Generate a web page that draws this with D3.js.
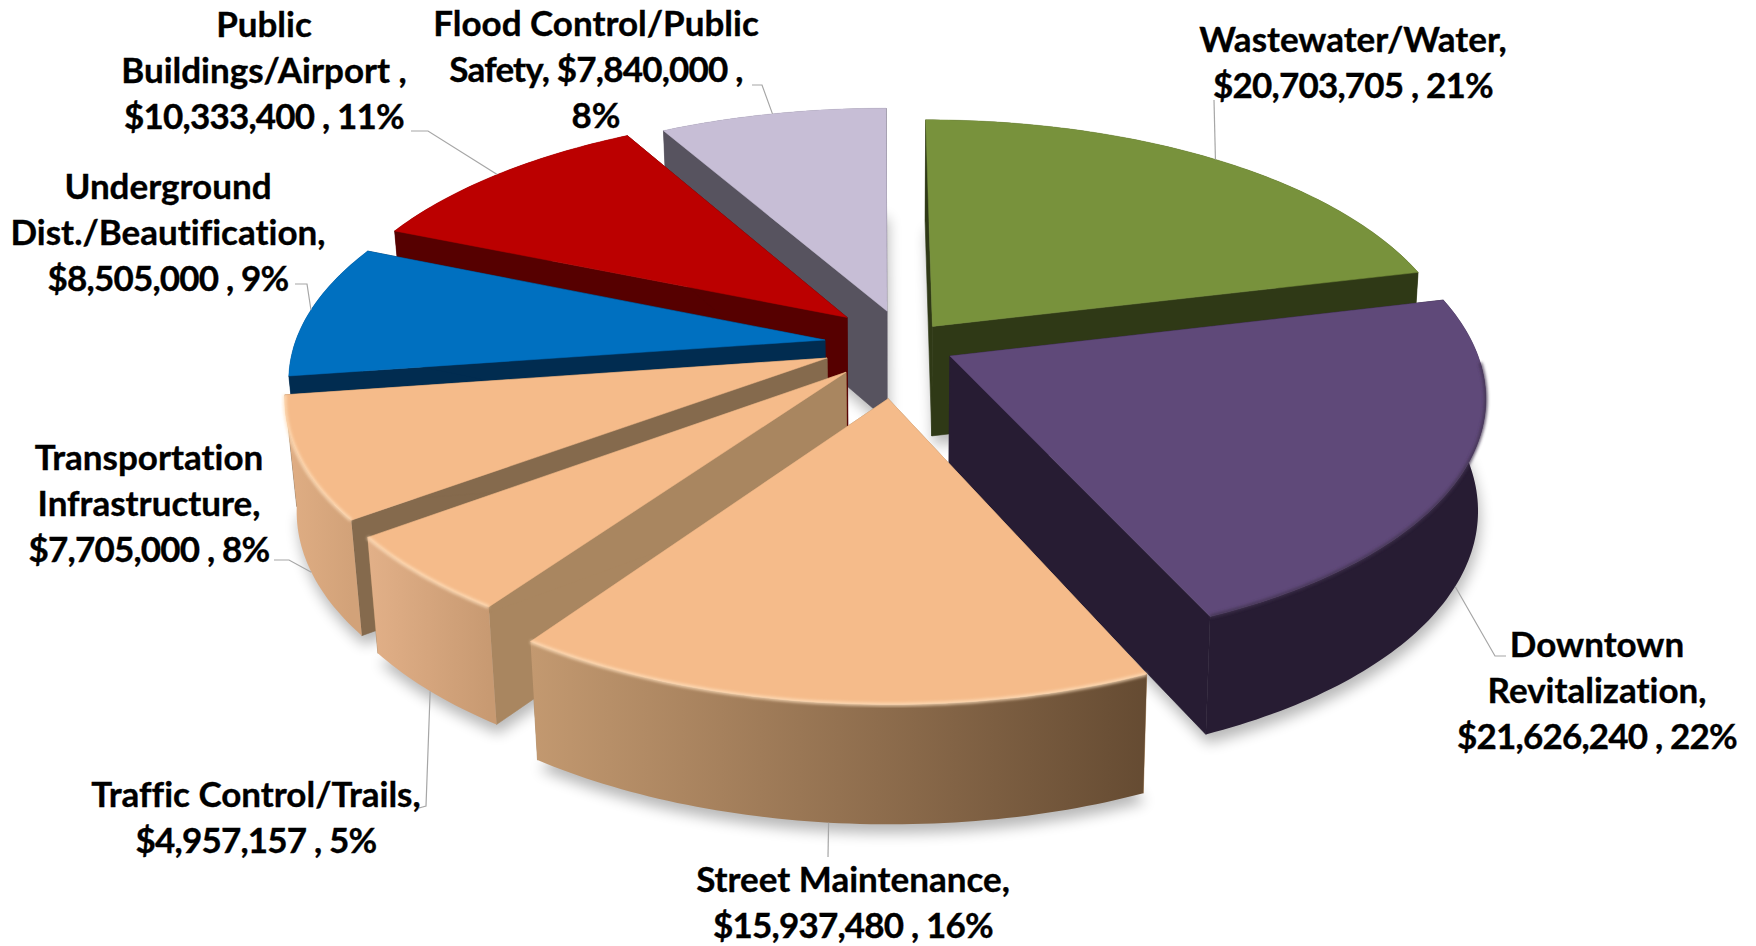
<!DOCTYPE html>
<html><head><meta charset="utf-8">
<script src="https://cdn.jsdelivr.net/npm/d3@7"></script>
<style>html,body{margin:0;background:#fff}svg{display:block}text{font-family:Lato,sans-serif;font-weight:700;fill:#000;stroke:#000;stroke-width:0.35;font-variant-ligatures:none}</style>
</head><body><svg id="c" width="1756" height="946"></svg>
<script>
// ---- data (clockwise from 12 o'clock)
const categories = ["Wastewater/Water","Downtown Revitalization","Street Maintenance","Traffic Control/Trails","Transportation Infrastructure","Underground Dist./Beautification","Public Buildings/Airport","Flood Control/Public Safety"];
const amounts = [20703705,21626240,15937480,4957157,7705000,8505000,10333400,7840000];
const labelLines = [
 ["Wastewater/Water,","$20,703,705 , 21%"],
 ["Downtown","Revitalization,","$21,626,240 , 22%"],
 ["Street Maintenance,","$15,937,480 , 16%"],
 ["Traffic Control/Trails,","$4,957,157 , 5%"],
 ["Transportation","Infrastructure,","$7,705,000 , 8%"],
 ["Underground","Dist./Beautification,","$8,505,000 , 9%"],
 ["Public","Buildings/Airport ,","$10,333,400 , 11%"],
 ["Flood Control/Public","Safety, $7,840,000 ,","8%"]
];
// ---- styles
const topColors  = ["#78923c","#5f4979","#f5bb8a","#f5bb8a","#f5bb8a","#0070c0","#bb0000","#c7bed6"];
const wallColors = ["#2f3916","#271c33","#a98660","#a98660","#856a4d","#012c50","#560000","#57535f"];
const rimLeft    = ["#2f3916","#271c33","#c39970","#e2b088","#e0ae84","#012c50","#560000","#57535f"];
const rimRight   = ["#2f3916","#271c33","#654b32","#c89a72","#d2a279","#012c50","#560000","#57535f"];
const bevel      = [null,"#41324f","#ffe0bd","#ffe0bd","#ffe0bd",null,null,null];
// ---- layout: exploded slice offsets in pie units, paint order, label anchors
const sliceOffsetX = [0.1,0.131,0.015,-0.063,-0.099,-0.104,-0.063,0.0135];
const sliceOffsetY = [-0.057,0.066,0.235,0.131,0.074,0,-0.095,-0.122];
const paintOrder = [7,0,6,5,4,3,1,2];
const labelX = [1353,1597,853,256,149,168,264,596];
const labelY = [40,645,880,795,458,187,25,24];
const leaderElbows = [[[1214,100]],[[1495,656],[1506,656]],[[828,857]],[[426,806],[419,808]],[[289,560],[274,560]],[[307,284],[295,284]],[[428,131],[411,131]],[[762,85],[752,85]]];
const CX=880, CY=340, RX=529, RY=241, PERSP=0.1485, DEPTH=110, DEPTH_GROW=8, SHRINK_L=0.98, SHRINK_R=0.987, SQUEEZE=0.009, FS=35, LH=45.8;

const svg=d3.select("#c");
const defs=svg.append("defs");
defs.append("filter").attr("id","sh").attr("x","-20%").attr("y","-20%").attr("width","140%").attr("height","140%")
  .append("feGaussianBlur").attr("stdDeviation",7);
defs.append("filter").attr("id","bv").attr("x","-5%").attr("y","-5%").attr("width","110%").attr("height","110%")
  .append("feGaussianBlur").attr("stdDeviation",1.8);

const proj=(X,Y,low)=>{
  const s=1/(1-PERSP*Y);
  let x=CX+RX*X*s*(1-SQUEEZE*Math.max(0,X)), y=CY+RY*Y*s;
  if(low){x=CX+(x-CX)*(x>CX?SHRINK_R:SHRINK_L); y+=DEPTH+DEPTH_GROW*Y;}
  return [x,y];
};
const arcs=d3.pie().sort(null).startAngle(0).endAngle(2*Math.PI)(amounts);
const line=d3.line();
const unit=a=>[Math.sin(a),-Math.cos(a)];

const geo=arcs.map((a,i)=>{
  const ox=sliceOffsetX[i], oy=sliceOffsetY[i];
  const P=(ang,low)=>{const u=unit(ang);return proj(u[0]+ox,u[1]+oy,low);};
  const n=Math.max(8,Math.ceil((a.endAngle-a.startAngle)*60));
  const angs=d3.range(n+1).map(k=>a.startAngle+(a.endAngle-a.startAngle)*k/n);
  const topArc=angs.map(t=>P(t,false)), lowArc=angs.map(t=>P(t,true));
  const apex=proj(ox,oy,false), apexLow=proj(ox,oy,true);
  return {i,a,P,topArc,lowArc,apex,apexLow};
});

// ground shadows
svg.append("g").selectAll("path").data(geo).join("path")
  .attr("d",g=>line([g.apexLow,...g.lowArc].map(p=>[p[0]+2,p[1]+9]))+"Z")
  .attr("fill","#000").attr("opacity",0.28).attr("filter","url(#sh)");

geo.forEach(g=>{
  const gid="rim"+g.i, xs=g.topArc.map(p=>p[0]);
  const lg=defs.append("linearGradient").attr("id",gid).attr("gradientUnits","userSpaceOnUse")
    .attr("x1",d3.min(xs)).attr("x2",d3.max(xs)).attr("y1",0).attr("y2",0);
  lg.append("stop").attr("offset",0).attr("stop-color",rimLeft[g.i]);
  lg.append("stop").attr("offset",1).attr("stop-color",rimRight[g.i]);
});

const slices=svg.append("g").selectAll("g").data(paintOrder.map(i=>geo[i])).join("g");
slices.each(function(g){
  const s=d3.select(this);
  // cut walls
  [[g.topArc[0],g.lowArc[0]],[g.topArc[g.topArc.length-1],g.lowArc[g.lowArc.length-1]]].forEach(([t,l])=>{
    s.append("path").attr("d",line([g.apex,t,l,g.apexLow])+"Z")
     .attr("fill",wallColors[g.i]).attr("stroke",wallColors[g.i]).attr("stroke-width",0.6);
  });
  // rim
  s.append("path").attr("d",line([...g.topArc,...g.lowArc.slice().reverse()])+"Z")
   .attr("fill",`url(#rim${g.i})`);
  // top face
  s.append("path").attr("d",line([g.apex,...g.topArc])+"Z").attr("fill",topColors[g.i])
   .attr("stroke",topColors[g.i]).attr("stroke-width",0.5);
  // bevelled rim edge, front part only
  if(bevel[g.i]){
    const front=g.topArc.filter(p=>p[1]>CY+20);
    s.append("path").attr("d",line(front)).attr("fill","none").attr("stroke",bevel[g.i])
     .attr("stroke-width",3.5).attr("filter","url(#bv)").attr("opacity",0.8);
  }
});

// leader lines start on the rim at each slice's mid angle
svg.append("g").selectAll("path").data(geo).join("path")
  .attr("d",g=>{
    const mid=(g.a.startAngle+g.a.endAngle)/2, front=unit(mid)[1]+sliceOffsetY[g.i]>0;
    return line([g.P(mid,front),...leaderElbows[g.i]]);
  }).attr("fill","none").attr("stroke","#a6a6a6").attr("stroke-width",1.2);

// labels (figures in the reference face run a little narrower)
const labels=svg.append("g").selectAll("text").data(labelLines).join("text")
  .attr("font-size",FS).attr("text-anchor","middle");
labels.selectAll("tspan").data((d,i)=>d.map(t=>({t,i}))).join("tspan")
  .attr("x",d=>labelX[d.i]).attr("y",(d,k)=>labelY[d.i]+k*LH).attr("dy","0.34em")
  .attr("letter-spacing",d=>d.t.includes("$")?-0.8:0).text(d=>d.t);
</script></body></html>
